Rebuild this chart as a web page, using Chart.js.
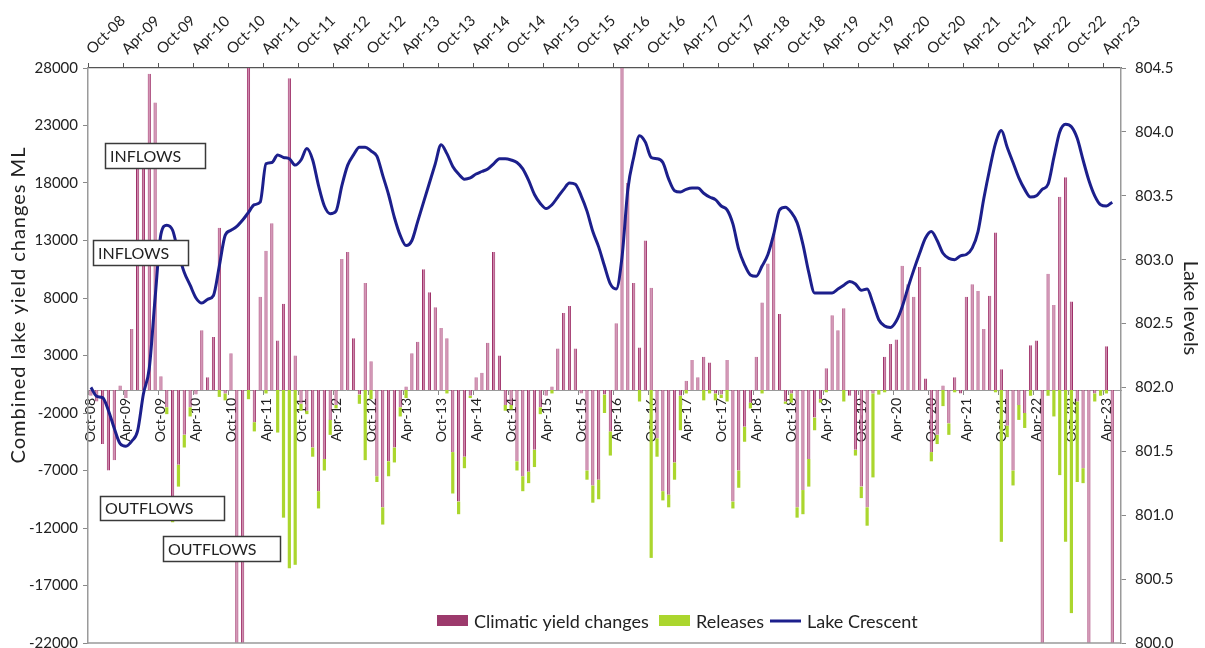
<!DOCTYPE html>
<html>
<head>
<meta charset="utf-8">
<script src="https://cdn.jsdelivr.net/npm/chart.js@4.4.0/dist/chart.umd.min.js"></script>
<style>
  html, body { margin: 0; padding: 0; background: #ffffff; }
  #wrap { width: 1205px; height: 648px; }
</style>
</head>
<body>
<div id="wrap"><canvas id="chart" width="1205" height="648"></canvas></div>
<script>
// ---- Month categories: Oct-08 .. Jun-23 ----
const monthNames = ['Jan','Feb','Mar','Apr','May','Jun','Jul','Aug','Sep','Oct','Nov','Dec'];
const firstYear = 2008, firstMonth = 9, monthCount = 177;
const months = [];
for (let i = 0; i < monthCount; i++) {
  const m = (firstMonth + i) % 12;
  const y = firstYear + Math.floor((firstMonth + i) / 12);
  months.push(monthNames[m] + '-' + String(y % 100).padStart(2, '0'));
}

// ---- Climatic yield changes (ML), one row per Oct..Sep year ----
const climaticYield = [
  -500, -1000, -4700, -7000, -6100, 400, -700, 5300, 20500, 20500, 27500, 25000,
  1200, -1500, -11000, -6500, -3900, -1500, -400, 5200, 1100, 4600, 14100, -300,
  3200, -23000, -23000, 29000, -2800, 8100, 12100, 14500, 4300, 7500, 27100, 3000,
  -1200, -1800, -5000, -8800, -6000, -2600, -1300, 11400, 12000, 4500, -400, 9300,
  2500, -7500, -10200, -6200, -5000, -1500, 300, 3200, 4200, 10500, 8500, 7200,
  5400, 4500, -5400, -9700, -5800, -500, 1100, 1500, 4100, 12000, 3000, -1300,
  -1300, -6200, -7500, -7100, -5200, -1500, -500, 300, 3600, 6700, 7300, 3600,
  -300, -7000, -8300, -7800, -400, -3600, 5800, 29000, 18000, 9300, 3700, 13000,
  8900, -4200, -8800, -9100, -6300, -500, 800, 2600, 1100, 2900, 2400, -300,
  -400, 2600, -9700, -7000, -3200, -1100, 2900, 7600, 11000, 13600, 6600, -1000,
  -300, -10200, -8700, -6000, -2400, -800, 1900, 6500, 5200, 7100, -500, -5200,
  -8400, -10200, -300, 0, 2900, 4000, 4400, 10800, 9200, 8100, 10700, 1000,
  -5400, -3900, 400, -2900, 1100, -300, 8100, 9200, 8600, 5300, 8200, 13700,
  1800, -3100, -7000, -1300, -2000, 3900, 4300, -23000, 10100, 7400, 16800, 18500,
  7700, -1000, -6800, -23000, -300, 0, 3800, -23000, null
];

// ---- Releases (ML) ----
const releases = [
  0, 0, 0, 0, 0, 0, 0, 0, 0, 0, 0, 0,
  0, -600, -500, -1900, -1100, -800, 0, 0, 0, 0, -600, -600,
  0, 0, 0, -800, -800, 0, -300, 0, -3700, -11100, -15500, -15200,
  -600, -300, -800, -1500, -1000, -1300, -300, 0, 0, 0, -800, -6100,
  -800, -500, -1500, -1300, -1300, -800, -700, 0, 0, 0, 0, 0,
  0, -300, -3600, -1100, -1000, -200, 0, 0, 0, 0, 0, -500,
  -400, -800, -1300, -1000, -1500, -600, 0, -300, 0, 0, 0, 0,
  0, -800, -1500, -1700, -1600, -2100, 0, 0, 0, 0, -1000, 0,
  -14600, -1600, -800, -1100, -1500, -3000, -300, 0, 0, -900, -300, -600,
  -300, -1000, -600, -1500, -1300, -500, 0, -300, 0, 0, 0, -200,
  -800, -900, -2100, -2400, -1100, -300, -200, 0, 0, -1000, 0, -500,
  -1000, -1600, -7300, -400, -200, 0, 0, 0, 0, 0, 0, 0,
  -800, -800, -1400, -1000, -200, 0, 0, 0, 0, 0, 0, -200,
  -13200, -1000, -1300, -1300, -1300, -500, 0, 0, -500, -2300, -7400, -13200,
  -19400, -7000, -1300, 0, -700, -500, -300, 0, null
];

// ---- Lake Crescent level (m) ----
const lakeCrescent = [
  802.00, 801.93, 801.92, 801.82, 801.68, 801.56, 801.54, 801.58, 801.66, 801.95, 802.15, 802.70,
  803.20, 803.27, 803.23, 803.05, 802.90, 802.80, 802.70, 802.66, 802.69, 802.72, 802.95, 803.19,
  803.23, 803.26, 803.31, 803.37, 803.43, 803.45, 803.75, 803.76, 803.82, 803.80, 803.79, 803.74,
  803.78, 803.87, 803.78, 803.58, 803.42, 803.36, 803.38, 803.58, 803.74, 803.82, 803.88, 803.88,
  803.85, 803.81, 803.66, 803.51, 803.33, 803.19, 803.11, 803.15, 803.30, 803.45, 803.60, 803.75,
  803.90, 803.83, 803.73, 803.67, 803.63, 803.64, 803.67, 803.69, 803.71, 803.75, 803.79, 803.79,
  803.78, 803.76, 803.71, 803.62, 803.51, 803.44, 803.40, 803.43, 803.49, 803.55, 803.60, 803.59,
  803.50, 803.38, 803.22, 803.10, 802.95, 802.81, 802.77, 803.02, 803.55, 803.80, 803.97, 803.92,
  803.80, 803.79, 803.76, 803.63, 803.54, 803.53, 803.55, 803.56, 803.56, 803.52, 803.49, 803.47,
  803.42, 803.39, 803.28, 803.08, 802.96, 802.88, 802.87, 802.95, 803.04, 803.20, 803.39, 803.41,
  803.37, 803.29, 803.12, 802.90, 802.74, 802.74, 802.74, 802.74, 802.77, 802.80, 802.83, 802.81,
  802.76, 802.77, 802.66, 802.53, 802.48, 802.47, 802.52, 802.63, 802.78, 802.92, 803.05, 803.17,
  803.22, 803.15, 803.05, 803.01, 803.00, 803.03, 803.04, 803.09, 803.22, 803.48, 803.71, 803.91,
  804.01, 803.88, 803.76, 803.64, 803.55, 803.49, 803.50, 803.55, 803.59, 803.80, 804.00, 804.06,
  804.04, 803.95, 803.78, 803.62, 803.50, 803.43, 803.42, 803.45, null
];

// ---- Axis ranges and tick steps ----
const yieldRange = { min: -22000, max: 28000, step: 5000 };
const levelRange = { min: 800, max: 804.5, step: 0.5 };
const labelEvery = 6;

// ---- Callout boxes ----
const noteBoxes = [
  { text: 'INFLOWS',  x: 105, y: 143, w: 100, h: 25 },
  { text: 'INFLOWS',  x: 93,  y: 240, w: 95,  h: 25 },
  { text: 'OUTFLOWS', x: 100, y: 496, w: 124, h: 24 },
  { text: 'OUTFLOWS', x: 163, y: 536, w: 117, h: 25 }
];

// ---- Legend key positions ----
const legendX = [437, 659, 770];

const FONT = "Lato, 'DejaVu Sans', sans-serif";
const TEXT = '#222222';
Chart.defaults.font.family = FONT;
Chart.defaults.color = TEXT;

const colors = {
  climFill: '#cd88ac', climEdge: '#9e2f68', climKey: '#9c3a6c',
  release: '#abd62e', lake: '#1c1f8c', axis: '#9a9a9a', topAxis: '#555555'
};

const overlay = {
  id: 'overlay',
  afterDatasetsDraw(chart) {
    const ctx = chart.ctx;
    const area = chart.chartArea;
    ctx.save();

    // plot-area bottom edge
    ctx.strokeStyle = colors.axis;
    ctx.lineWidth = 1.5;
    ctx.beginPath();
    ctx.moveTo(area.left, area.bottom);
    ctx.lineTo(area.right, area.bottom);
    ctx.stroke();

    // callout boxes
    ctx.font = '16px ' + FONT;
    ctx.textBaseline = 'middle';
    ctx.textAlign = 'left';
    noteBoxes.forEach(b => {
      ctx.fillStyle = '#ffffff';
      ctx.fillRect(b.x, b.y, b.w, b.h);
      ctx.strokeStyle = '#3a3a3a';
      ctx.lineWidth = 1.5;
      ctx.strokeRect(b.x + 0.5, b.y + 0.5, b.w, b.h);
      ctx.fillStyle = TEXT;
      ctx.fillText(b.text, b.x + 5, b.y + b.h / 2 + 1);
    });

    // legend inside the plot
    const ds = chart.data.datasets;
    const keys = [
      { label: ds[0].label, kind: 'box', color: colors.climKey },
      { label: ds[1].label, kind: 'box', color: colors.release },
      { label: ds[2].label, kind: 'line', color: colors.lake }
    ];
    const ly = 621;
    ctx.font = '18px ' + FONT;
    keys.forEach((k, i) => {
      const lx = legendX[i];
      if (k.kind === 'box') {
        ctx.fillStyle = k.color;
        ctx.fillRect(lx, ly - 6, 31, 11);
      } else {
        ctx.strokeStyle = k.color;
        ctx.lineWidth = 3;
        ctx.beginPath();
        ctx.moveTo(lx, ly);
        ctx.lineTo(lx + 31, ly);
        ctx.stroke();
      }
      ctx.fillStyle = TEXT;
      ctx.fillText(k.label, lx + 37, ly + 1);
    });

    // axis titles
    ctx.font = '20px ' + FONT;
    ctx.textAlign = 'center';
    ctx.save();
    ctx.letterSpacing = '1px';
    ctx.translate(19, 305);
    ctx.rotate(-Math.PI / 2);
    ctx.fillText('Combined lake yield changes ML', 0, 0);
    ctx.restore();
    ctx.save();
    ctx.translate(1190, 308);
    ctx.rotate(Math.PI / 2);
    ctx.fillText('Lake levels', 0, 0);
    ctx.restore();
    ctx.restore();
  }
};

const everySixth = (ctx, on, off) => (ctx.index % labelEvery === 0 ? on : off);
const noVerticalPadding = s => { s.paddingTop = 0; s.paddingBottom = 0; };

new Chart(document.getElementById('chart'), {
  type: 'bar',
  data: {
    labels: months,
    datasets: [
      {
        label: 'Climatic yield changes',
        data: climaticYield,
        backgroundColor: colors.climFill,
        borderColor: colors.climEdge,
        borderWidth: { left: 1, right: 1, top: 0, bottom: 0 },
        borderSkipped: false,
        stack: 'flows',
        xAxisID: 'x', yAxisID: 'y',
        barPercentage: 0.55, categoryPercentage: 1.0,
        order: 2
      },
      {
        label: 'Releases',
        data: releases,
        backgroundColor: colors.release,
        borderWidth: 0,
        stack: 'flows',
        xAxisID: 'x', yAxisID: 'y',
        barPercentage: 0.55, categoryPercentage: 1.0,
        order: 2
      },
      {
        type: 'line',
        label: 'Lake Crescent',
        data: lakeCrescent,
        borderColor: colors.lake,
        backgroundColor: colors.lake,
        borderWidth: 3,
        pointRadius: 0,
        cubicInterpolationMode: 'monotone',
        xAxisID: 'x', yAxisID: 'y1',
        order: 0
      }
    ]
  },
  options: {
    responsive: false,
    animation: false,
    devicePixelRatio: 1,
    layout: { padding: { left: 0, right: 0, top: 0, bottom: 5 } },
    plugins: { legend: { display: false }, tooltip: { enabled: false } },
    scales: {
      x: {
        type: 'category',
        position: { y: 0 },
        stacked: true,
        offset: true,
        grid: {
          offset: true,
          drawOnChartArea: false,
          drawTicks: true,
          tickLength: 4,
          tickColor: c => everySixth(c, '#888888', 'rgba(0,0,0,0)')
        },
        border: { display: true, color: colors.axis, width: 1 },
        ticks: {
          autoSkip: false,
          maxRotation: 90, minRotation: 90,
          padding: 4,
          font: { size: 14 },
          color: TEXT,
          callback: (v, i) => (i % labelEvery === 0 ? months[i] : '')
        },
        afterFit: s => { s.paddingLeft = 0; s.paddingRight = 0; }
      },
      x2: {
        type: 'category',
        position: 'top',
        offset: true,
        grid: {
          offset: true,
          drawOnChartArea: false,
          drawTicks: true,
          tickLength: 5,
          tickColor: c => everySixth(c, '#555555', 'rgba(0,0,0,0)')
        },
        border: { display: true, color: colors.topAxis, width: 1.2 },
        ticks: {
          autoSkip: false,
          maxRotation: 45, minRotation: 45,
          padding: 5,
          labelOffset: 11,
          font: { size: 15 },
          color: TEXT,
          callback: (v, i) => (i % labelEvery === 0 ? months[i] : '')
        },
        afterFit: s => { s.height = 68; s.paddingLeft = 0; s.paddingRight = 0; }
      },
      y: {
        type: 'linear',
        position: 'left',
        stacked: true,
        min: yieldRange.min, max: yieldRange.max,
        grid: { drawOnChartArea: false, drawTicks: true, tickLength: 5, tickColor: '#888888' },
        border: { display: true, color: colors.axis, width: 1.5 },
        ticks: {
          stepSize: yieldRange.step,
          padding: 5,
          font: { size: 15 },
          color: TEXT,
          callback: v => String(v)
        },
        afterFit: s => { s.width = 88; noVerticalPadding(s); }
      },
      y1: {
        type: 'linear',
        position: 'right',
        min: levelRange.min, max: levelRange.max,
        grid: { drawOnChartArea: false, drawTicks: true, tickLength: 5, tickColor: '#888888' },
        border: { display: true, color: colors.axis, width: 1.5 },
        ticks: {
          stepSize: levelRange.step,
          padding: 9,
          font: { size: 15 },
          color: TEXT,
          callback: v => Number(v).toFixed(1)
        },
        afterFit: s => { s.width = 84; noVerticalPadding(s); }
      }
    }
  },
  plugins: [overlay]
});
</script>
</body>
</html>
